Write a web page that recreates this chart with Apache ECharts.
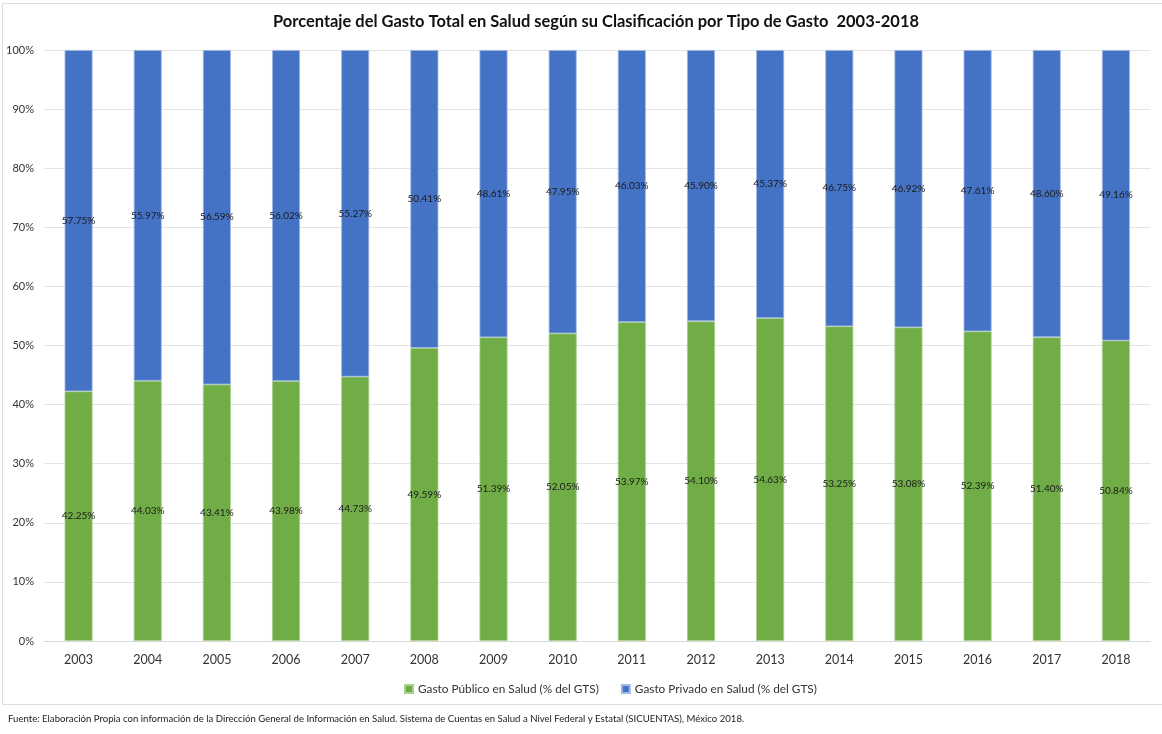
<!DOCTYPE html>
<html>
<head>
<meta charset="utf-8">
<script src="https://cdn.jsdelivr.net/npm/echarts@6/dist/echarts.min.js"></script>
<style>
html,body{margin:0;padding:0;background:#fff;}
#chart{width:1162px;height:734px;}
</style>
</head>
<body>
<div id="chart"></div>
<script>
const years = ['2003','2004','2005','2006','2007','2008','2009','2010','2011','2012','2013','2014','2015','2016','2017','2018'];
const publico = [42.25,44.03,43.41,43.98,44.73,49.59,51.39,52.05,53.97,54.10,54.63,53.25,53.08,52.39,51.40,50.84];
const privado = [57.75,55.97,56.59,56.02,55.27,50.41,48.61,47.95,46.03,45.90,45.37,46.75,46.92,47.61,48.60,49.16];
const yTicks = [0,10,20,30,40,50,60,70,80,90,100];
const titleText = 'Porcentaje del Gasto Total en Salud según su Clasificación por Tipo de Gasto  2003-2018';
const sourceText = 'Fuente: Elaboración Propia con información de la Dirección General de Información en Salud. Sistema de Cuentas en Salud a Nivel Federal y Estatal (SICUENTAS), México 2018.';
const seriesNames = ['Gasto Público en Salud (% del GTS)','Gasto Privado en Salud (% del GTS)'];

const font = 'Lato, "Open Sans", sans-serif';
const chart = echarts.init(document.getElementById('chart'), null, {renderer:'canvas'});
const labelCfg = {
  show:true, position:'inside', color:'#1a1a1a', fontSize:10, fontFamily:font,
  formatter: p => p.value.toFixed(2) + '%'
};
chart.setOption({
  animation:false,
  backgroundColor:'#fff',
  legend:{
    bottom:34, left:399, itemWidth:8, itemHeight:8, itemGap:22, icon:'rect',
    textStyle:{fontFamily:font, fontSize:11.8, color:'#333'},
    data:seriesNames
  },
  grid:{left:44, right:11.5, top:50, bottom:93, containLabel:false},
  xAxis:{
    type:'category', data:years,
    axisLine:{show:true, lineStyle:{color:'#d9d9d9'}},
    axisTick:{show:false},
    axisLabel:{fontFamily:font, fontSize:12.5, color:'#333', margin:12}
  },
  yAxis:{
    type:'value', min:0, max:100, interval:10,
    axisLine:{show:false}, axisTick:{show:false},
    splitLine:{lineStyle:{color:'#e3e3e3'}},
    axisLabel:{fontFamily:font, fontSize:11, color:'#333', margin:10,
      formatter: v => yTicks.includes(v) ? v + '%' : ''}
  },
  series:[
    {name:seriesNames[0], type:'bar', stack:'t', data:publico, barWidth:'40.5%',
     itemStyle:{color:'#70ad47', borderColor:'#a9d18e', borderWidth:0.8}, label:labelCfg},
    {name:seriesNames[1], type:'bar', stack:'t', data:privado, barWidth:'40.5%',
     itemStyle:{color:'#4472c4', borderColor:'#a4b9e6', borderWidth:0.8}, label:labelCfg}
  ],
  graphic:[
    {type:'rect', shape:{x:2.5, y:3.5, width:1200, height:701}, style:{fill:null, stroke:'#dcdcdc', lineWidth:1}, silent:true, z:-1},
    {type:'text', x:596, y:21, scaleX:0.94, style:{text:titleText, font:'bold 17.5px ' + font, fill:'#111', align:'center', verticalAlign:'middle'}},
    {type:'text', left:8, top:714, style:{text:sourceText, font:'9.6px ' + font, fill:'#222'}}
  ]
});
</script>
</body>
</html>
